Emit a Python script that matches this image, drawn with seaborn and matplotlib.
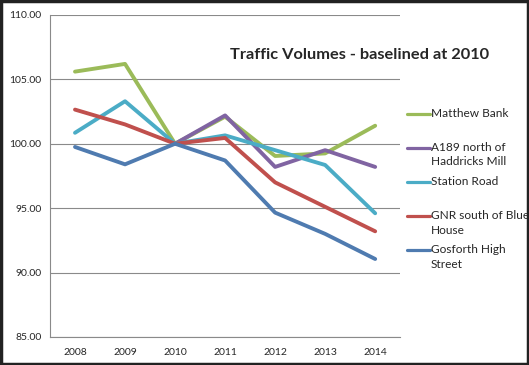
import matplotlib
matplotlib.use('Agg')
import matplotlib.pyplot as plt
import numpy as np
import pandas as pd
import seaborn as sns
from matplotlib.lines import Line2D
from matplotlib.patches import Rectangle

years = [2008, 2009, 2010, 2011, 2012, 2013, 2014]
matthew_bank = [105.6, 106.2, 100.0, 102.1, 99.05, 99.25, 101.4]
a189 = [np.nan, np.nan, 100.0, 102.2, 98.2, 99.5, 98.2]
station_road = [100.85, 103.3, 100.0, 100.65, 99.5, 98.35, 94.6]
gnr = [102.65, 101.5, 100.0, 100.45, 97.0, 95.1, 93.2]
gosforth = [99.75, 98.4, 100.0, 98.7, 94.65, 93.0, 91.05]

labels = ['Matthew Bank', 'A189 north of\nHaddricks Mill', 'Station Road',
          'GNR south of Blue\nHouse', 'Gosforth High\nStreet']
colors = ['#9BBB59', '#8064A2', '#4BACC6', '#C0504D', '#4F7BB0']

df = pd.concat([
    pd.DataFrame({'year': years, 'volume': vals, 'site': lab})
    for lab, vals in zip(labels, [matthew_bank, a189, station_road, gnr, gosforth])
], ignore_index=True)

sns.set_style('white')
plt.rcParams['font.family'] = ['Lato', 'DejaVu Sans']

W, H = 529, 365
fig = plt.figure(figsize=(W / 100, H / 100), dpi=100)
ax = fig.add_axes([0.0945, 0.077, 0.662, 0.882])
sns.lineplot(data=df, x='year', y='volume', hue='site', palette=colors,
             linewidth=2.8, sort=False, ax=ax, legend=False)

ax.set_xlim(2007.5, 2014.5)
ax.set_ylim(85, 110)
ax.set_yticks(np.arange(85, 111, 5))
ax.set_yticklabels([f'{v:.2f}' for v in np.arange(85, 111, 5)], fontsize=7.5)
ax.set_xticks(years)
ax.set_xticklabels([str(y) for y in years], fontsize=7.5)
ax.set_xticks(np.arange(2007.5, 2015, 1), minor=True)
ax.tick_params(axis='x', which='major', length=0, pad=8)
ax.tick_params(axis='x', which='minor', length=3, color='#8a8a8a', direction='out')
ax.tick_params(axis='y', length=3, color='#8a8a8a', direction='out', pad=3)
ax.grid(axis='y', color='#8a8a8a', linewidth=0.8)
ax.set_axisbelow(True)
for s in ['top', 'right']:
    ax.spines[s].set_visible(False)
for s in ['left', 'bottom']:
    ax.spines[s].set_color('#8a8a8a')
    ax.spines[s].set_linewidth(0.8)
ax.set_xlabel('')
ax.set_ylabel('')

# Excel-style legend: handle aligned with the first line of each label
for i, (lab, col) in enumerate(zip(labels, colors)):
    yh = 113.5 + i * 34
    fig.add_artist(Line2D([407 / W, 430 / W], [1 - yh / H, 1 - yh / H],
                          color=col, linewidth=2.3, transform=fig.transFigure))
    for j, part in enumerate(lab.split('\n')):
        fig.text(431 / W, 1 - (yh + j * 14.5) / H, part, ha='left', va='center',
                 fontsize=8.6)

fig.text(0.68, 0.848, 'Traffic Volumes - baselined at 2010', ha='center', va='center',
         fontsize=11.8, fontweight='bold')

fig.patches.append(Rectangle((0.002, 0.003), 0.996, 0.994, transform=fig.transFigure,
                             fill=False, edgecolor='#222222', linewidth=2.5))

fig.savefig('out.png', dpi=100)
